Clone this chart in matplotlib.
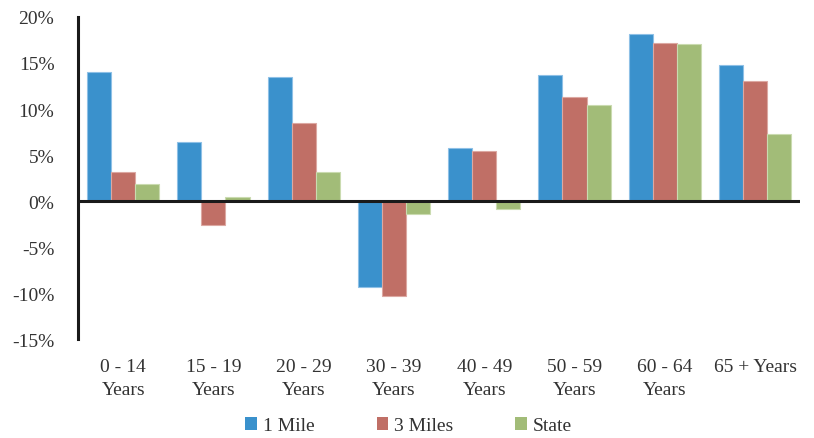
import numpy as np
import matplotlib.pyplot as plt
from matplotlib.patches import Patch

# Возрастные группы и изменение населения (%)
categories = ['0 - 14\nYears', '15 - 19\nYears', '20 - 29\nYears', '30 - 39\nYears',
              '40 - 49\nYears', '50 - 59\nYears', '60 - 64\nYears', '65 + Years']
series_names = ['1 Mile', '3 Miles', 'State']
one_mile = [14.0, 6.4, 13.5, -9.3, 5.8, 13.7, 18.1, 14.75]
three_miles = [3.2, -2.65, 8.5, -10.3, 5.4, 11.3, 17.2, 13.0]
state = [1.9, 0.4, 3.2, -1.4, -0.9, 10.4, 17.05, 7.3]
y_ticks = [-15, -10, -5, 0, 5, 10, 15, 20]

colors = ['#3A91CC', '#C06F66', '#A2BC78']
edges = ['#8EC0E6', '#DCA8A2', '#CADBB0']

plt.rcParams['font.family'] = ['Liberation Serif', 'DejaVu Serif']

fig = plt.figure(figsize=(8.14, 4.39), dpi=100)
ax = fig.add_axes([0.0958, 0.2255, 0.8872, 0.7335])

x = np.arange(len(categories))
width = 0.267
for i, (vals, c, e) in enumerate(zip([one_mile, three_miles, state], colors, edges)):
    ax.bar(x + (i - 1) * width, vals, width, color=c, edgecolor=e, linewidth=0.8)

ax.axhline(0, color='#1a1a1a', linewidth=2.2, zorder=3)
ax.set_xlim(-0.5, len(categories) - 0.5)
ax.set_ylim(-15, 20)
ax.set_yticks(y_ticks)
ax.set_yticklabels([f'{v}%' for v in y_ticks])
ax.set_xticks(x)
ax.set_xticklabels(categories, linespacing=1.4)

for side in ['top', 'right', 'bottom']:
    ax.spines[side].set_visible(False)
ax.spines['left'].set_color('#1a1a1a')
ax.spines['left'].set_linewidth(2.2)

ax.tick_params(axis='y', length=0, pad=17, labelsize=14, labelcolor='#333333')
ax.tick_params(axis='x', length=0, pad=14, labelsize=14, labelcolor='#333333')

handles = [Patch(facecolor=c, edgecolor='none') for c in colors]
fig.legend(handles, series_names, loc='center', bbox_to_anchor=(0.502, 0.028),
           ncol=3, frameon=False, prop={'family': ['Liberation Serif'], 'size': 14},
           handlelength=0.6, handleheight=0.6, handletextpad=0.3, columnspacing=3.2,
           labelcolor='#333333')

fig.savefig('out.png', dpi=100)
